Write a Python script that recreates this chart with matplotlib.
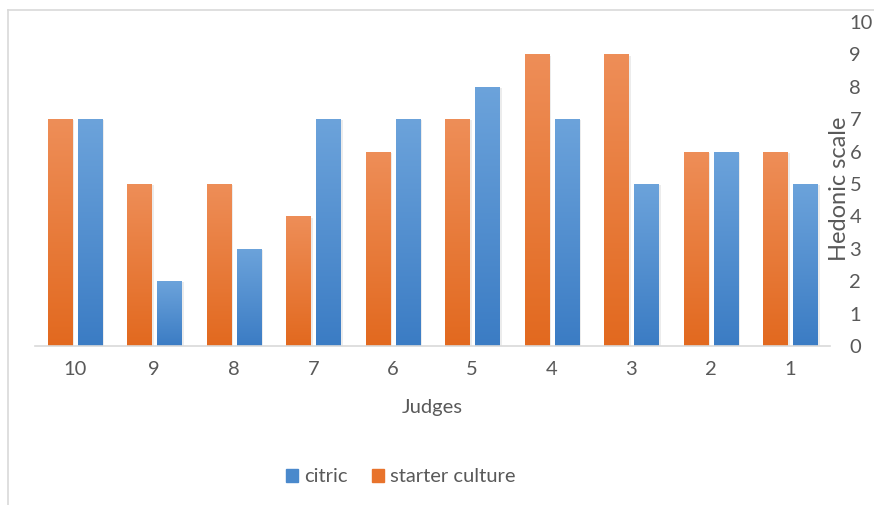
import numpy as np
import matplotlib
matplotlib.use("Agg")
import matplotlib.pyplot as plt
from matplotlib.colors import LinearSegmentedColormap
from matplotlib.lines import Line2D
from matplotlib.patches import Rectangle

judges = ["10", "9", "8", "7", "6", "5", "4", "3", "2", "1"]
starter_culture = [7, 5, 5, 4, 6, 7, 9, 9, 6, 6]
citric = [7, 2, 3, 7, 7, 8, 7, 5, 6, 5]
y_ticks = list(range(0, 11))

plt.rcParams["font.family"] = ["Lato", "DejaVu Sans"]
text_color = "#595959"
fs = 14.5

fig = plt.figure(figsize=(8.74, 5.05), dpi=100)
W, H = 874, 505
ax = fig.add_axes([35 / W, 1 - 346 / H, (830 - 35) / W, (346 - 22) / H])

x = np.arange(len(judges))
bw = 0.305
off = 0.19

orange_cmap = LinearSegmentedColormap.from_list("o", ["#E2691F", "#EE8E58"])
blue_cmap = LinearSegmentedColormap.from_list("b", ["#3B7CC4", "#6CA3DB"])

bars_s = ax.bar(x - off, starter_culture, width=bw, color="#E97A3A", zorder=2)
bars_c = ax.bar(x + off, citric, width=bw, color="#5290D2", zorder=2)

grad = np.linspace(0, 1, 256).reshape(-1, 1)
for bars, cmap in ((bars_s, orange_cmap), (bars_c, blue_cmap)):
    for b in bars:
        x0, y0 = b.get_x(), b.get_y()
        w, h = b.get_width(), b.get_height()
        # soft drop shadow
        ax.add_patch(Rectangle((x0 + 0.02, y0), w + 0.01, h - 0.04,
                               color="#9a9a9a", alpha=0.18, lw=0, zorder=1))
        im = ax.imshow(grad, cmap=cmap, origin="lower", aspect="auto",
                       extent=(x0, x0 + w, y0, y0 + h), zorder=3)
        im.set_clip_path(b)

ax.set_xlim(-0.5, len(judges) - 0.5)
ax.set_ylim(0, 10)
ax.set_xticks(x)
ax.set_xticklabels(judges)
ax.set_yticks(y_ticks)
ax.yaxis.tick_right()
ax.tick_params(axis="both", length=0, colors=text_color, labelsize=fs)
ax.tick_params(axis="x", pad=11)
ax.tick_params(axis="y", pad=14)
for s in ("top", "left", "right"):
    ax.spines[s].set_visible(False)
ax.spines["bottom"].set_color("#D9D9D9")
ax.spines["bottom"].set_linewidth(1.2)
ax.spines["bottom"].set_zorder(4)

fig.text(432 / W, 1 - 408 / H, "Judges", ha="center", va="center",
         color=text_color, fontsize=fs)
fig.text(840 / W, 1 - 189 / H, "Hedonic scale", ha="center", va="center",
         rotation=90, color=text_color, fontsize=17)

handles = [Rectangle((0, 0), 1, 1, color="#4A89CC"),
           Rectangle((0, 0), 1, 1, color="#E8732C")]
fig.legend(handles, ["citric", "starter culture"], loc="center",
           bbox_to_anchor=(401 / W, 1 - 477 / H), ncol=2, frameon=False,
           fontsize=fs, labelcolor=text_color, handlelength=0.6,
           handleheight=0.6, handletextpad=0.3, columnspacing=1.2)

# chart frame edges
fig.add_artist(Line2D([8 / W, 8 / W], [0, 1 - 10 / H], transform=fig.transFigure,
                      color="#D9D9D9", lw=1.2))
fig.add_artist(Line2D([8 / W, 1], [1 - 10 / H, 1 - 10 / H], transform=fig.transFigure,
                      color="#D9D9D9", lw=1.2))

fig.savefig("out.png", dpi=100)
